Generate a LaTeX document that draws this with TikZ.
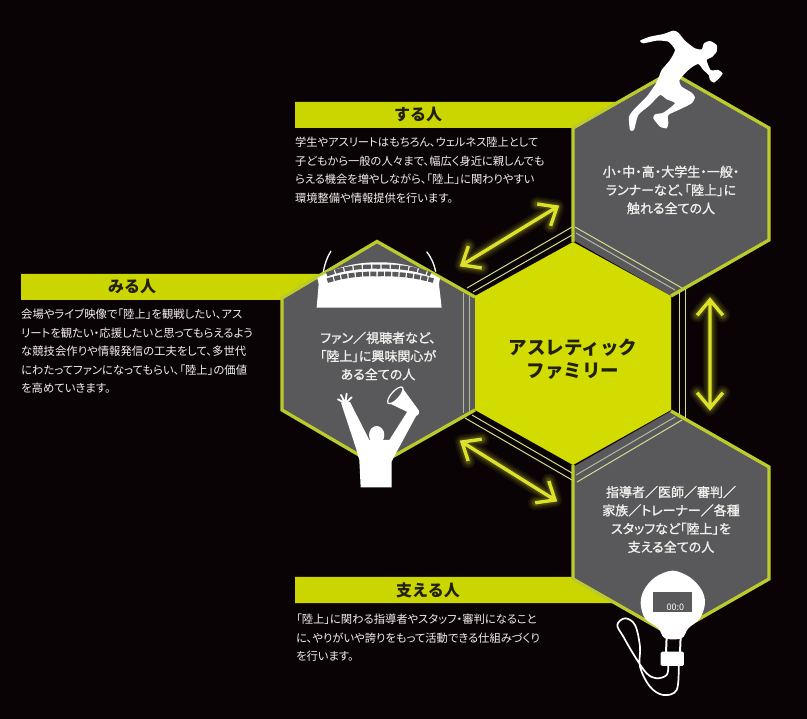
\documentclass[tikz,border=0pt]{standalone}
\usepackage{fontspec}
\setmainfont{Noto Sans CJK JP}
\newfontfamily\bodyjp[RawFeature=+palt]{Noto Sans CJK JP}
\newfontfamily\hexjp[RawFeature=+palt,FakeBold=1.2]{Noto Sans CJK JP}
\usetikzlibrary{calc}
\definecolor{bgc}{HTML}{0A0306}
\definecolor{hexg}{HTML}{59585B}
\definecolor{limec}{HTML}{D2DC00}
\definecolor{bannerc}{HTML}{CBD500}
\definecolor{edgec}{HTML}{BCCB2C}
\definecolor{thinc}{HTML}{D5DA90}
\definecolor{thing}{HTML}{B5B9A0}
\definecolor{arrowc}{HTML}{DCE22A}
\definecolor{txtw}{HTML}{F0F0EC}
\definecolor{txtd}{HTML}{20200C}
\tikzset{
  hexfill/.style={fill=hexg},
  hexedge/.style={draw=edgec,line width=3.3pt,line join=miter},
  thinline/.style={draw=thinc,line width=1pt},
  greyline/.style={draw=thing,line width=1pt},
  banner/.style={fill=bannerc},
  bannertext/.style={font=\bfseries\fontsize{16}{18}\selectfont,text=txtd,inner sep=0pt},
  bodytext/.style={font=\bodyjp\fontsize{#1}{18.5}\selectfont,text=txtw,align=left,anchor=north west,inner sep=0pt},
  hextext/.style={font=\hexjp\fontsize{13}{18.3}\selectfont,text=txtw,align=center,inner sep=0pt},
  sil/.style={fill=white,draw=none},
}
\newcommand{\glowarrow}[2]{%
  \foreach \w/\o in {15/.05,12/.07,9/.09,6.5/.14}{
    \draw[arrowc,line width=\w pt,opacity=\o,line join=round,line cap=round]
      ($(#1)!20pt!40:(#2)$) -- (#1) -- ($(#1)!20pt!-40:(#2)$) (#1) -- (#2)
      ($(#2)!20pt!40:(#1)$) -- (#2) -- ($(#2)!20pt!-40:(#1)$);
  }
  \draw[arrowc,line width=3.4pt,line join=miter]
      ($(#1)!20pt!40:(#2)$) -- (#1) -- ($(#1)!20pt!-40:(#2)$) (#1) -- (#2)
      ($(#2)!20pt!40:(#1)$) -- (#2) -- ($(#2)!20pt!-40:(#1)$);
}
\begin{document}
\begin{tikzpicture}[x=1pt,y=-1pt]
\useasboundingbox (0,0) rectangle (807,719);
\fill[bgc] (0,0) rectangle (807,719);

% banners
\fill[banner] (295,102) -- (618,102) -- (573,128) -- (295,128) -- cycle;
\fill[banner] (21,274) -- (328,274) -- (282,300) -- (21,300) -- cycle;
\fill[banner] (295,577) -- (573,577) -- (618,603) -- (295,603) -- cycle;

% hexagons
\fill[hexfill] (671,72) -- (769,128) -- (769,240) -- (671,296) -- (573,240) -- (573,128) -- cycle;
\fill[hexfill] (377,241.5) -- (475,297) -- (475,410) -- (377,465.5) -- (282,410) -- (282,298) -- cycle;
\fill[hexfill] (671,411) -- (769,467) -- (769,579) -- (671,635) -- (573,579) -- (573,467) -- cycle;

\path[hexedge] (573,242) -- (573,128) -- (671,72) -- (769,128) -- (769,240) -- (671,296);
\path[hexedge] (475,297) -- (377,241.5) -- (282,298) -- (282,410) -- (377,465.5) -- (475,410);
\path[hexedge] (671,411) -- (769,467) -- (769,579) -- (671,635) -- (573,579) -- (573,465);

% thin bands
\path[thinline] (575,227) -- (682,288);
\path[greyline] (576,233) -- (675,290);
\path[thinline] (467,288) -- (572,227);
\path[thinline] (473,292) -- (572,235);
\path[thinline] (679,292) -- (679,414);
\path[thinline] (685,289) -- (685,418);
\path[thinline] (465,418) -- (572,480);
\path[thinline] (472,415) -- (572,473);
\path[thinline] (577,482) -- (682,420);
\path[greyline] (576,475) -- (675,417);
\path[greyline] (463,293) -- (463,413);
\path[greyline] (469,296) -- (469,411);

% centre hexagon
\fill[limec] (573,242) -- (671,296) -- (671,410) -- (573,465) -- (475,410) -- (475,296) -- cycle;
\node[font=\bfseries\fontsize{18.5}{23}\selectfont,text=txtd,align=center,inner sep=0pt] (centre) at (573,359) {アスレティック\\ファミリー};

% banner labels
\node[bannertext] (suru) at (418,115) {する人};
\node[bannertext] (miru) at (132,287) {みる人};
\node[bannertext] (sasaeru) at (428,590) {支える人};

% body texts
\node[bodytext=11.25] (surubody) at (295,137) {学生やアスリートはもちろん、ウェルネス陸上として\\子どもから一般の人々まで、幅広く身近に親しんでも\\らえる機会を増やしながら、「陸上」に関わりやすい\\環境整備や情報提供を行います。};
\node[bodytext=11.35] (mirubody) at (21,309) {会場やライブ映像で「陸上」を観戦したい、アス\\リートを観たい・応援したいと思ってもらえるよう\\な競技会作りや情報発信の工夫をして、多世代\\にわたってファンになってもらい、「陸上」の価値\\を高めていきます。};
\node[bodytext=11.3] (sasaebody) at (296,614) {「陸上」に関わる指導者やスタッフ・審判になること\\に、やりがいや誇りをもって活動できる仕組みづくり\\を行います。};

% hexagon texts
\node[hextext] (toptext) at (671,190) {小・中・高・大学生・一般・\\ランナーなど、「陸上」に\\触れる全ての人};
\node[hextext] (lefttext) at (378,356) {ファン／視聴者など、\\「陸上」に興味関心が\\ある全ての人};
\node[hextext] (bottext) at (671,519.5) {指導者／医師／審判／\\家族／トレーナー／各種\\スタッフなど「陸上」を\\支える全ての人};

% arrows
\coordinate (a1) at (462,265); \coordinate (a2) at (557,207);
\coordinate (b1) at (710,300); \coordinate (b2) at (710,408);
\coordinate (c1) at (462,442); \coordinate (c2) at (555,500);
\glowarrow{a1}{a2}
\glowarrow{b1}{b2}
\glowarrow{c1}{c2}

% runner
\begin{scope}[shift={(560,20)},x=0.3333pt,y=-0.3333pt]
\fill[sil] plot[smooth cycle,tension=0.35] coordinates {
 (240,62) (270,50) (310,42) (340,32) (355,38) (375,62) (405,85) (425,88)
 (432,70) (450,63) (470,75) (470,95) (455,112) (440,120) (452,150) (475,150)
 (488,160) (480,172) (462,188) (450,180) (446,165) (430,150) (415,132)
 (395,142) (375,160) (358,182) (365,200) (395,218) (405,232) (395,250)
 (360,268) (325,285) (325,310) (320,325) (300,320) (280,295) (285,283)
 (310,278) (345,250) (320,238) (300,225) (270,255) (235,285) (222,330)
 (210,330) (207,290) (225,265) (260,230) (285,195) (295,175) (305,150)
 (330,120) (345,90) (325,65) (290,62) (250,70)};
\end{scope}

% stadium and spectator
\begin{scope}[shift={(270,240)},x=0.3333pt,y=-0.3333pt]
\draw[white,line width=1.3pt] (160,95) .. controls (165,70) and (172,50) .. (183,33);
\draw[white,line width=1.3pt] (497,95) .. controls (492,70) and (482,50) .. (470,35);
\fill[sil] (140,203) -- (146,132) -- (142,115) .. controls (200,78) and (270,66) .. (325,67)
  .. controls (380,66) and (450,78) .. (510,115) -- (507,132) -- (515,203) -- cycle;
\draw[hexg,line width=4.2pt,dash pattern=on 8pt off 1.3pt] (170,103) .. controls (230,82) and (280,79) .. (325,80) .. controls (370,79) and (430,82) .. (482,103);
\draw[hexg,line width=4.6pt,dash pattern=on 6pt off 1.3pt] (172,122) .. controls (230,104) and (280,101) .. (325,102) .. controls (370,101) and (430,104) .. (490,122);
% person
\fill[sil] (213,488) -- (240,486) -- (298,600) -- (345,600) -- (358,600) -- (412,515) -- (440,525) -- (375,645) -- (365,665) -- (365,742) -- (272,742) -- (268,660) -- (258,625) -- cycle;
\fill[sil] (320,585) ellipse [x radius=23,y radius=27];
\draw[white,line width=1.8pt,line cap=round] (226,490) -- (204,478) (226,490) -- (213,465) (226,490) -- (230,461) (226,490) -- (245,472);
\fill[sil] (358,490) -- (398,445) -- (447,512) .. controls (450,528) and (435,532) .. (425,522) -- cycle;
\draw[white,line width=1.2pt,fill=hexg] (376,466) ellipse [x radius=32,y radius=12,rotate=48];
\end{scope}

% stopwatch
\begin{scope}[shift={(560,440)},x=0.3333pt,y=-0.3333pt]
\draw[white,line width=1.7pt,line join=round] plot[smooth,tension=0.6] coordinates {
 (325,678) (320,705) (290,715) (260,700) (225,650) (190,590) (172,555) (195,535)
 (225,555) (240,620) (240,680) (270,740) (310,765) (350,750) (356,678)};
\draw[white,line width=2pt] (320,590) -- (318,640) (362,590) -- (360,640);
\fill[sil,rounded corners=1.5pt] (302,635) rectangle (372,678);
\fill[sil] plot[smooth cycle,tension=0.55] coordinates {
 (338,392) (390,412) (425,450) (435,490) (420,535) (385,565) (365,595)
 (315,595) (295,565) (255,535) (242,490) (252,450) (285,412)};
\fill[hexg] (280,456) rectangle (395,516);
\node[font=\fontsize{9}{10}\selectfont,text=white,inner sep=0pt] (clock) at (346,503) {00:0};
\end{scope}
\end{tikzpicture}
\end{document}
